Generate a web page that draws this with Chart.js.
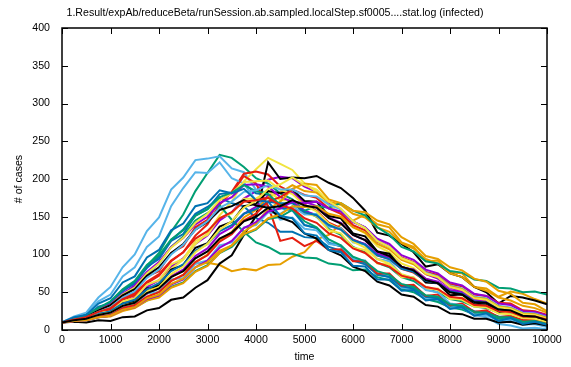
<!DOCTYPE html>
<html>
<head>
<meta charset="utf-8">
<script src="https://cdn.jsdelivr.net/npm/chart.js@4"></script>
<style>
  html, body { margin: 0; padding: 0; background: #fff; }
</style>
</head>
<body>
<canvas id="chart" width="571" height="367"></canvas>
<script>
const titleText = '1.Result/expAb/reduceBeta/runSession.ab.sampled.localStep.sf0005....stat.log (infected)';
const xTicks = [0, 1000, 2000, 3000, 4000, 5000, 6000, 7000, 8000, 9000, 10000];
const yTicks = [0, 50, 100, 150, 200, 250, 300, 350, 400];

const times = [0, 250, 500, 750, 1000, 1250, 1500, 1750, 2000, 2250, 2500, 2750, 3000, 3250, 3500, 3750, 4000, 4250, 4500, 4750,
  5000, 5250, 5500, 5750, 6000, 6250, 6500, 6750, 7000, 7250, 7500, 7750, 8000, 8250, 8500, 8750, 9000, 9250, 9500, 9750, 10000];

// one run per array, infected count read every 250 time units
const s01 = [10,13,16,22,27,36,43,57,66,84,95,114,125,145,156,174,184,199,203,201,190,183,168,160,144,136,119,111,95,88,74,68,56,51,42,38,31,28,22,20,16];
const s02 = [10,15,19,29,37,52,63,85,102,130,153,184,208,232,228,216,201,194,181,173,158,150,134,126,110,103,89,83,70,65,54,50,41,38,31,29,23,22,17,16,13];
const s03 = [10,18,23,43,57,83,100,131,149,186,202,225,227,230,214,209,186,181,161,158,139,135,116,111,93,89,73,70,56,54,41,40,29,29,20,21,13,14,9,8,5];
const s04 = [10,13,15,22,26,35,41,53,58,72,78,88,89,86,78,81,79,86,87,97,103,120,126,140,145,153,140,136,116,110,91,92,76,75,57,55,44,51,48,41,35];
const s05 = [10,13,14,20,23,33,38,53,62,81,93,114,128,152,170,197,213,228,220,212,194,183,165,155,137,128,111,103,88,82,68,63,51,47,39,35,28,26,20,18,14];
const s06 = [10,16,18,31,35,53,61,84,94,118,127,152,160,180,182,194,181,179,162,159,139,135,115,111,92,90,73,71,57,56,43,43,32,33,23,24,17,18,12,13,9];
const s07 = [10,14,17,23,28,40,46,62,72,91,103,125,140,166,183,207,210,206,190,182,166,158,142,135,120,113,99,94,81,76,65,62,51,48,40,37,30,28,23,21,17];
const s08 = [10,11,10,13,12,17,18,26,29,40,43,56,66,88,99,126,151,222,200,202,201,204,195,188,175,158,129,125,114,103,84,87,75,70,57,50,35,45,43,39,34];
const s09 = [10,12,14,19,22,31,35,48,55,71,80,98,108,127,136,154,163,178,182,182,170,164,149,142,126,119,104,98,84,79,66,62,51,47,39,36,29,27,21,19,15];
const s10 = [10,14,18,26,33,47,56,75,88,110,124,145,155,165,146,130,116,110,101,101,96,95,88,86,79,80,70,66,54,50,41,37,30,27,21,20,15,14,11,11,8];
const s11 = [10,17,21,38,47,71,83,110,124,164,188,209,208,222,201,194,171,164,146,149,134,132,114,112,94,92,74,73,56,55,42,41,29,30,19,20,12,13,7,8,4];
const s12 = [10,13,14,18,20,27,32,44,51,65,73,90,100,119,130,149,159,176,182,192,184,182,170,166,154,149,136,130,115,108,94,88,75,70,57,52,43,39,32,29,23];
const s13 = [10,14,14,24,24,38,42,60,66,87,94,118,126,149,154,174,174,184,172,172,154,151,132,128,109,106,88,87,70,70,54,55,41,43,31,32,22,24,16,17,12];
const s14 = [10,15,20,29,37,51,63,82,97,119,133,154,163,175,168,164,148,142,130,130,123,122,110,105,92,87,74,70,58,55,44,42,33,31,25,23,18,17,13,12,9];
const s15 = [10,14,15,26,28,44,50,71,78,102,111,136,146,172,181,204,194,164,118,122,111,118,106,107,91,91,75,75,59,60,45,47,33,35,24,26,17,19,13,14,10];
const s16 = [10,13,13,22,22,35,38,55,59,80,86,109,115,137,143,164,167,184,181,186,171,170,151,148,128,124,104,101,82,80,63,62,46,47,34,35,24,26,17,18,12];
const s17 = [10,15,19,27,34,48,59,77,90,110,122,140,150,168,176,192,193,190,176,170,158,152,138,133,119,114,101,96,83,80,68,64,53,50,40,37,30,28,22,20,15];
const s18 = [10,12,13,17,19,26,30,39,45,57,63,78,86,102,110,126,133,147,150,159,158,164,162,168,158,152,136,126,110,104,91,88,78,76,67,65,56,55,50,51,47];
const s19 = [10,13,13,22,21,33,34,49,50,67,69,88,92,112,116,136,139,156,154,164,153,154,137,135,116,113,94,91,73,69,53,50,35,33,20,17,8,6,2,3,1];
const s20 = [10,12,13,17,18,25,29,39,43,56,62,77,85,102,112,130,141,160,170,187,194,192,173,168,158,156,145,140,123,114,98,94,83,79,68,64,52,48,36,34,25];
const s21 = [10,14,18,26,33,47,56,75,88,109,122,142,154,172,181,196,197,198,186,180,165,157,141,133,117,109,94,88,74,69,57,53,42,40,31,30,22,21,16,15,11];
const s22 = [10,13,15,21,25,35,40,54,62,78,87,105,114,131,139,154,160,170,168,168,156,152,139,133,119,113,99,94,81,77,65,62,51,48,38,36,28,27,20,20,15];
const s23 = [10,12,14,18,20,29,33,44,50,65,73,90,99,117,127,145,154,170,176,186,179,175,161,154,139,132,117,110,96,90,77,73,61,58,47,45,36,35,26,25,20];
const s24 = [10,14,18,26,33,46,54,72,83,102,114,133,143,159,164,172,165,162,149,143,128,121,106,99,84,78,64,59,47,44,33,31,22,21,15,15,10,11,7,9,6];
const s25 = [10,12,13,17,19,27,30,41,46,60,67,83,92,109,118,135,143,157,161,170,168,170,161,157,143,136,121,114,99,93,80,75,63,59,48,45,35,33,25,24,19];
const s26 = [10,15,20,29,38,54,65,86,99,120,132,151,160,176,182,192,184,180,166,159,144,136,120,112,97,91,78,73,61,57,46,44,34,32,24,23,17,17,11,12,8];
const s27 = [10,14,17,24,30,43,51,69,80,100,113,133,144,162,170,183,185,192,186,186,178,177,166,160,144,135,118,110,95,89,76,71,59,55,44,42,32,30,23,22,17];
const s28 = [10,12,13,17,19,27,30,42,47,61,68,83,90,105,112,127,134,148,153,164,163,164,154,150,136,129,114,107,93,87,74,70,58,54,43,41,31,29,22,21,16];
const s29 = [10,13,15,20,23,32,36,50,57,74,84,103,114,133,144,162,171,187,193,202,192,186,170,161,144,135,118,110,95,89,75,70,57,53,42,40,30,28,21,20,15];
const s30 = [10,17,20,35,42,63,71,96,106,132,141,164,168,185,181,187,172,170,151,148,128,125,106,103,85,84,67,67,52,53,39,41,28,30,19,22,12,16,8,11,7];
const s31 = [10,14,17,24,29,41,48,64,74,92,103,121,131,148,156,170,172,175,165,161,148,142,128,122,108,102,89,84,72,68,57,54,44,42,33,32,25,24,18,18,14];
const s32 = [10,13,15,20,23,32,36,49,55,70,78,95,104,121,129,144,150,162,164,172,165,162,148,141,126,119,104,98,84,79,66,62,50,47,37,36,27,26,19,18,13];

const runs = [s01, s02, s03, s04, s05, s06, s07, s08, s09, s10, s11, s12, s13, s14, s15, s16,
  s17, s18, s19, s20, s21, s22, s23, s24, s25, s26, s27, s28, s29, s30, s31, s32];

// gnuplot default line colours
const palette = ['#9400d3', '#009e73', '#56b4e9', '#e69f00', '#f0e442', '#0072b2', '#e51e10', '#000000'];

const FONT = 'Liberation Sans, Arial, sans-serif';

const datasets = runs.map((vals, i) => ({
  label: 'run ' + (i + 1),
  data: vals.map((v, j) => ({ x: times[j], y: v })),
  borderColor: palette[i % palette.length],
  borderWidth: 2,
  pointRadius: 0,
  fill: false,
  tension: 0,
  order: runs.length - i
}));

// frame with inward ticks on all four sides, plus title and axis labels
const gnuplotFrame = {
  id: 'gnuplotFrame',
  afterDatasetsDraw(chart) {
    const { ctx, chartArea: a, scales } = chart;
    ctx.save();
    ctx.strokeStyle = '#000';
    ctx.lineWidth = 1;
    const tl = 6;
    ctx.beginPath();
    xTicks.forEach(v => {
      const px = Math.round(scales.x.getPixelForValue(v)) + 0.5;
      ctx.moveTo(px, a.bottom); ctx.lineTo(px, a.bottom - tl);
      ctx.moveTo(px, a.top); ctx.lineTo(px, a.top + tl);
    });
    yTicks.forEach(v => {
      const py = Math.round(scales.y.getPixelForValue(v)) + 0.5;
      ctx.moveTo(a.left, py); ctx.lineTo(a.left + tl, py);
      ctx.moveTo(a.right, py); ctx.lineTo(a.right - tl, py);
    });
    ctx.stroke();
    ctx.lineWidth = 1.5;
    ctx.strokeRect(a.left, a.top, a.right - a.left, a.bottom - a.top);

    ctx.fillStyle = '#000';
    ctx.font = '10.6px ' + FONT;
    ctx.textAlign = 'center';
    ctx.textBaseline = 'middle';
    ctx.fillText(titleText, 275, 13);
    ctx.fillText('time', (a.left + a.right) / 2, 357);
    ctx.translate(19, (a.top + a.bottom) / 2);
    ctx.rotate(-Math.PI / 2);
    ctx.fillText('# of cases', 0, 0);
    ctx.restore();
  }
};

new Chart(document.getElementById('chart'), {
  type: 'line',
  data: { datasets },
  options: {
    responsive: false,
    animation: false,
    events: [],
    layout: { padding: { top: 28, right: 24, left: 0, bottom: 0 } },
    plugins: { legend: { display: false }, tooltip: { enabled: false }, title: { display: false } },
    scales: {
      x: {
        type: 'linear', min: 0, max: 10000,
        afterBuildTicks: s => { s.ticks = xTicks.map(v => ({ value: v })); },
        afterFit: s => { s.height = 37; },
        grid: { display: false, drawTicks: false },
        border: { display: false },
        ticks: { color: '#000', padding: 4, maxRotation: 0, font: { family: FONT, size: 10.6 }, callback: v => String(v) }
      },
      y: {
        type: 'linear', min: 0, max: 400,
        afterBuildTicks: s => { s.ticks = yTicks.map(v => ({ value: v })); },
        afterFit: s => { s.width = 62; },
        grid: { display: false, drawTicks: false },
        border: { display: false },
        ticks: { color: '#000', padding: 12, font: { family: FONT, size: 10.6 }, callback: v => String(v) }
      }
    }
  },
  plugins: [gnuplotFrame]
});
</script>
</body>
</html>
